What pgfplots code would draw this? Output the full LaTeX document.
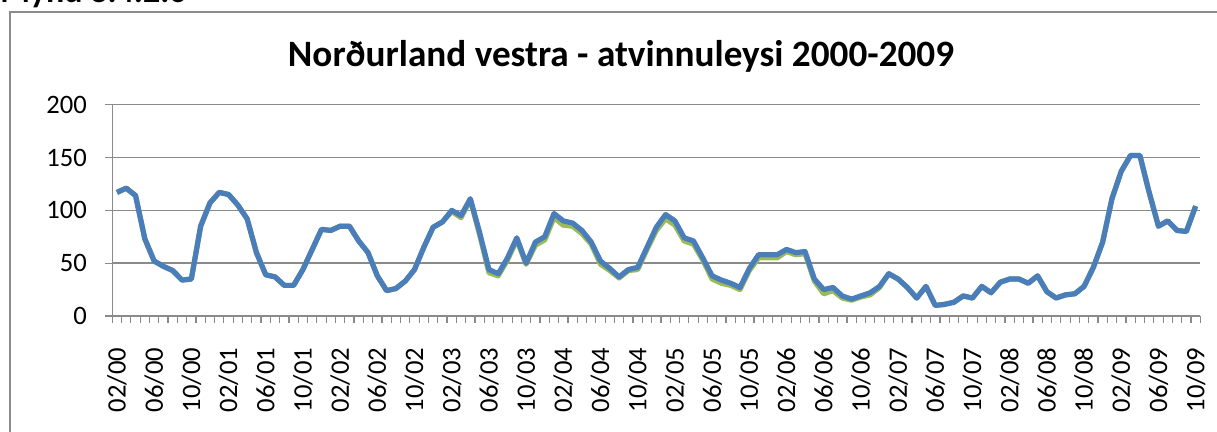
\documentclass[border=0pt]{standalone}
\usepackage{fontspec}
\setmainfont{Carlito}
\usepackage{pgfplots}
\pgfplotsset{compat=1.18}
\usepackage{pgfplotstable}
\definecolor{cBlue}{HTML}{4A7EBB}
\definecolor{cGreen}{HTML}{9BBB59}
\definecolor{cGrid}{HTML}{8A8A8A}
\definecolor{cFrame}{HTML}{8C8C8C}

% month index (0 = 02/00), series 1 (blue) and series 2 (green)
\pgfplotstableread{
i   blue  green
0   117   117
1   121   121
2   114   114
3   73    73
4   52    52
5   47    47
6   43    43
7   34    34
8   35    35
9   85    85
10  107   107
11  117   117
12  115   115
13  105   105
14  92    92
15  60    60
16  39    39
17  37    37
18  29    29
19  29    29
20  44    44
21  63    63
22  82    82
23  81    81
24  85    85
25  85    85
26  71    71
27  60    60
28  38    38
29  24    24
30  26    26
31  33    33
32  44    44
33  65    65
34  84    84
35  89    89
36  100   99
37  95    93
38  111   110
39  79    77
40  44    41
41  40    38
42  55    53
43  74    72
44  50    49
45  70    67
46  75    72
47  97    93
48  90    86
49  88    85
50  81    78
51  70    68
52  52    49
53  45    43
54  37    36
55  44    43
56  46    44
57  65    63
58  84    81
59  96    92
60  90    86
61  74    71
62  71    68
63  55    53
64  38    35
65  34    31
66  31    29
67  27    25
68  45    43
69  58    55
70  58    55
71  58    55
72  63    61
73  60    58
74  61    59
75  35    33
76  25    21
77  27    24
78  19    17
79  16    15
80  19    18
81  22    20
82  28    27
83  40    40
84  35    35
85  27    27
86  17    17
87  28    28
88  10    10
89  11    11
90  13    13
91  19    19
92  17    17
93  28    28
94  22    22
95  32    32
96  35    35
97  35    35
98  31    31
99  38    38
100 23    23
101 17    17
102 20    20
103 21    21
104 28    28
105 46    46
106 70    70
107 111   111
108 137   137
109 152   152
110 152   152
111 117   117
112 85    85
113 90    90
114 81    81
115 80    80
116 104   104
}\unemp

\begin{document}
\begin{tikzpicture}[x=0.5pt,y=-0.5pt]
\path[use as bounding box, clip] (0,0) rectangle (1217,432);

% chart frame (right and bottom edges fall outside the picture)
\draw[cFrame, line width=0.75pt] (10,12) rectangle (1240,460);

% caption cut off at the top
\node[anchor=base west, inner sep=0pt, font=\bfseries\fontsize{17}{20}\selectfont]
  at (0,3) {Mynd 8.4.2.6};

% title
\node[anchor=base, inner sep=0pt, font=\bfseries\fontsize{18.6}{22}\selectfont]
  at (621,67) {Norðurland vestra - atvinnuleysi 2000-2009};

\begin{axis}[
  at={(56.15pt,-158pt)}, anchor=south west,
  scale only axis,
  width=544pt, height=105.65pt,
  xmin=-0.5, xmax=116.5,
  ymin=0, ymax=200,
  axis x line*=bottom, axis y line*=left,
  axis line style={-, cGrid, line width=0.75pt},
  tick align=outside,
  major tick length=3.5pt,
  tick style={cGrid, line width=0.6pt},
  ytick={0,50,...,200},
  ymajorgrids,
  grid style={cGrid, line width=0.75pt},
  xtick={-0.5,0.5,...,116.5},
  xticklabels={},
  extra x ticks={0,4,...,116},
  extra x tick labels={02/00,06/00,10/00,02/01,06/01,10/01,02/02,06/02,10/02,
    02/03,06/03,10/03,02/04,06/04,10/04,02/05,06/05,10/05,02/06,06/06,10/06,
    02/07,06/07,10/07,02/08,06/08,10/08,02/09,06/09,10/09},
  extra x tick style={major tick length=0pt},
  xticklabel style={rotate=90, anchor=east, inner sep=0pt, outer xsep=16pt,
    font=\fontsize{13.3}{15}\selectfont},
  yticklabel style={anchor=east, inner sep=0pt, xshift=-9pt,
    font=\fontsize{13.3}{15}\selectfont},
  /pgf/number format/assume math mode=true,
]
\addplot[cGreen, line width=2.6pt, line join=round] table[x=i, y=green] {\unemp};
\addplot[cBlue, line width=2.6pt, line join=round] table[x=i, y=blue] {\unemp};
\end{axis}
\end{tikzpicture}
\end{document}
